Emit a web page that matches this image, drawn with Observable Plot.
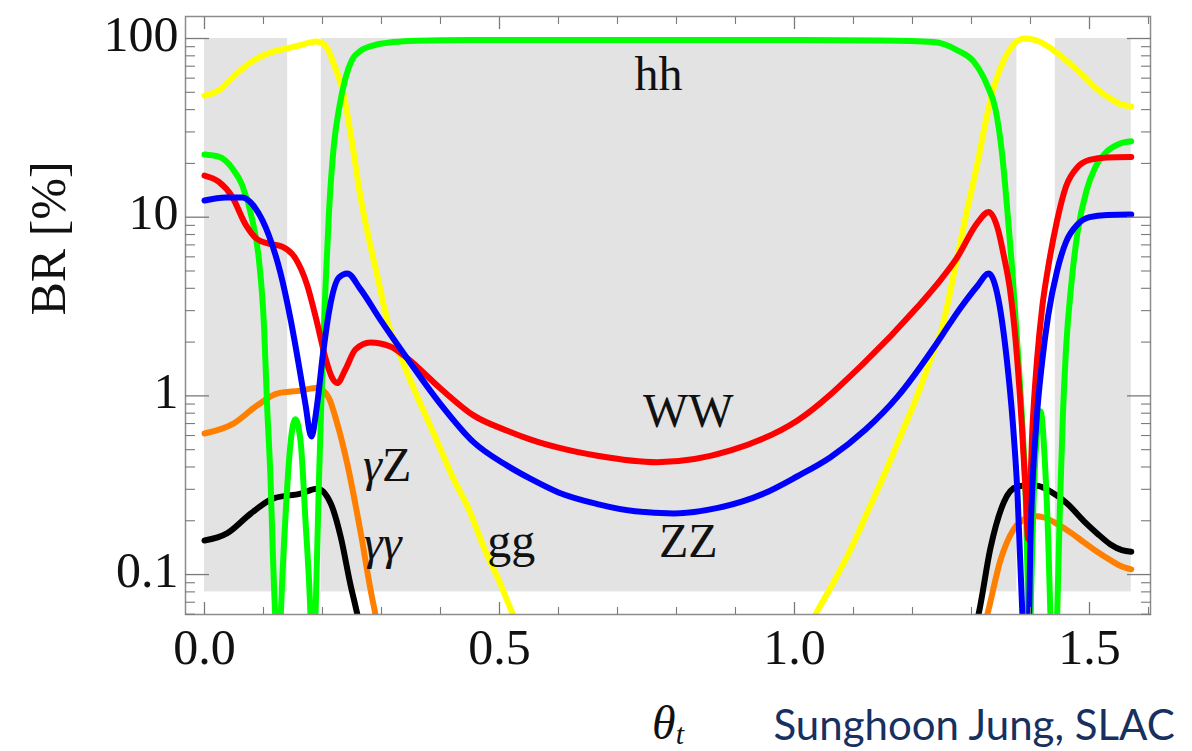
<!DOCTYPE html>
<html><head><meta charset="utf-8">
<script src="https://cdn.jsdelivr.net/npm/d3@7"></script>
<script src="https://cdn.jsdelivr.net/npm/@observablehq/plot@0.6"></script>
<style>
html,body{margin:0;padding:0;background:#fff;overflow:hidden;}
</style></head><body><div id="chart"></div>
<script>
// ---- data: [theta_t, BR in %] ----
const ggBR = [[0,47.9],[0.025,51.5],[0.05,61.7],[0.08,74.1],[0.115,84.1],[0.14,88.1],[0.165,92.3],[0.19,96.2],[0.205,91.2],[0.22,70.8],[0.235,50.1],[0.25,26.3],[0.265,12.6],[0.28,7.24],[0.295,4.37],[0.31,2.63],[0.335,1.58],[0.36,1.0],[0.39,0.60],[0.42,0.355],[0.45,0.224],[0.475,0.138],[0.50,0.091],[0.52,0.063],[0.55,0.04],[0.99,0.025],[1.036,0.060],[1.06,0.083],[1.095,0.138],[1.125,0.229],[1.151,0.355],[1.18,0.60],[1.208,1.0],[1.23,1.58],[1.25,2.4],[1.27,4.8],[1.29,10],[1.31,20],[1.325,35.5],[1.34,56.2],[1.355,75.9],[1.37,91.2],[1.39,100],[1.41,97.7],[1.43,90.2],[1.45,80.4],[1.47,70.8],[1.49,61.7],[1.51,53.1],[1.53,47.3],[1.55,43.2],[1.5708,41.7]];
const hhBR = [[0,22.4],[0.024,21.8],[0.047,18.8],[0.064,15.1],[0.081,9.66],[0.092,5.89],[0.101,2.42],[0.106,0.90],[0.112,0.336],[0.116,0.126],[0.12,0.056],[0.1245,0.02],[0.129,0.056],[0.137,0.204],[0.146,0.55],[0.154,0.74],[0.163,0.55],[0.171,0.204],[0.18,0.056],[0.184,0.02],[0.188,0.056],[0.194,0.336],[0.2,1.48],[0.205,3.98],[0.211,10.7],[0.219,24.7],[0.228,40.5],[0.239,60.1],[0.25,75.9],[0.264,85.1],[0.287,91.6],[0.32,95.5],[0.36,97.3],[0.45,98],[0.6,98.2],[0.8,98.2],[1.0,98],[1.15,97.5],[1.236,95.5],[1.276,85.9],[1.304,74.1],[1.327,54.3],[1.341,39.8],[1.352,22.4],[1.361,10.7],[1.369,5.08],[1.378,1.89],[1.386,0.705],[1.392,0.262],[1.395,0.1],[1.398,0.02],[1.401,0.079],[1.405,0.25],[1.41,0.56],[1.417,0.82],[1.424,0.45],[1.43,0.158],[1.434,0.056],[1.439,0.02],[1.445,0.056],[1.45,0.25],[1.455,0.79],[1.46,1.78],[1.47,4.47],[1.48,8.3],[1.495,14.1],[1.51,19.1],[1.53,23.4],[1.55,25.7],[1.5708,26.6]];
const zzBR = [[0,12.4],[0.036,12.9],[0.064,12.9],[0.0865,11.2],[0.109,7.93],[0.129,4.84],[0.146,2.67],[0.16,1.48],[0.171,0.90],[0.181,0.593],[0.191,0.90],[0.2,1.63],[0.211,2.95],[0.228,4.6],[0.242,4.84],[0.264,3.97],[0.298,2.67],[0.343,1.63],[0.4,0.90],[0.456,0.551],[0.513,0.407],[0.553,0.343],[0.6,0.288],[0.666,0.248],[0.73,0.226],[0.795,0.22],[0.87,0.236],[0.948,0.284],[1.005,0.355],[1.061,0.454],[1.12,0.646],[1.174,0.984],[1.236,1.86],[1.264,2.56],[1.281,3.09],[1.31,4.12],[1.329,4.84],[1.345,3.55],[1.36,1.58],[1.37,0.708],[1.378,0.282],[1.386,0.063],[1.393,0.01],[1.4,0.158],[1.41,0.708],[1.42,1.58],[1.43,2.82],[1.445,5.0],[1.46,7.24],[1.48,9.12],[1.5,10],[1.53,10.3],[1.5708,10.35]];
const wwBR = [[0,17.1],[0.024,15.8],[0.047,13.0],[0.069,9.18],[0.089,7.55],[0.109,7.11],[0.132,6.84],[0.154,5.89],[0.174,4.17],[0.191,2.55],[0.205,1.63],[0.216,1.27],[0.225,1.18],[0.239,1.41],[0.256,1.82],[0.281,1.99],[0.315,1.89],[0.343,1.63],[0.4,1.10],[0.456,0.778],[0.513,0.638],[0.553,0.569],[0.6,0.513],[0.666,0.462],[0.767,0.425],[0.892,0.495],[1.005,0.728],[1.117,1.52],[1.208,3.13],[1.247,4.43],[1.275,5.9],[1.31,9.3],[1.329,10.7],[1.345,8.51],[1.355,6.03],[1.365,3.98],[1.375,2.0],[1.385,0.708],[1.392,0.282],[1.396,0.158],[1.403,0.631],[1.411,1.58],[1.42,3.16],[1.43,5.25],[1.445,9.55],[1.46,14.8],[1.48,19.1],[1.5,20.9],[1.53,21.6],[1.5708,21.7]];
const gzBR = [[0,0.616],[0.049,0.70],[0.089,0.883],[0.123,1.03],[0.163,1.07],[0.191,1.11],[0.21,0.984],[0.225,0.70],[0.242,0.417],[0.264,0.177],[0.286,0.069],[0.30,0.045],[1.30,0.03],[1.327,0.06],[1.349,0.12],[1.372,0.18],[1.39,0.205],[1.406,0.213],[1.425,0.208],[1.445,0.192],[1.47,0.17],[1.49,0.152],[1.513,0.134],[1.536,0.12],[1.555,0.111],[1.5708,0.107]];
const aaBR = [[0,0.155],[0.038,0.17],[0.078,0.219],[0.117,0.267],[0.163,0.284],[0.191,0.302],[0.214,0.25],[0.231,0.162],[0.247,0.089],[0.259,0.06],[0.27,0.04],[1.29,0.035],[1.312,0.06],[1.332,0.14],[1.355,0.255],[1.377,0.31],[1.395,0.315],[1.411,0.314],[1.435,0.29],[1.462,0.25],[1.49,0.2],[1.513,0.17],[1.535,0.148],[1.555,0.137],[1.5708,0.134]];

const seriesNames  = ["gg", "γγ", "γZ", "hh", "WW", "ZZ"];
const seriesColors = ["#ffff00", "#000000", "#ff7f00", "#00ff00", "#ff0000", "#0000ff"];
const seriesData   = [ggBR, aaBR, gzBR, hhBR, wwBR, zzBR];

const shadeBands = [{x1: 0, x2: 0.141}, {x1: 0.198, x2: 1.377}, {x1: 1.442, x2: 1.5708}];
const shadeRange = [0.08, 100];

const curveLabels = [
  {text: "hh", x: 0.7695, y: 51.2},
  {text: "WW", x: 0.82, y: 0.668},
  {text: "ZZ", x: 0.82, y: 0.1252},
  {text: "gg", x: 0.52, y: 0.1252},
  {text: "γZ", x: 0.3096, y: 0.336},
  {text: "γγ", x: 0.302, y: 0.1215}
];

const xMajorTicks = [0, 0.5, 1.0, 1.5];
const xTickLabels = ["0.0", "0.5", "1.0", "1.5"];
const xMinorTicks = [0.1,0.2,0.3,0.4,0.6,0.7,0.8,0.9,1.1,1.2,1.3,1.4,1.6];
const yMajorTicks = [0.1, 1, 10, 100];
const yTickLabels = ["0.1", "1", "10", "100"];
const yMinorTicks = [0.06,0.07,0.08,0.09,0.2,0.3,0.4,0.5,0.6,0.7,0.8,0.9,2,3,4,5,6,7,8,9,20,30,40,50,60,70,80,90];

const xDomain = [-0.0322, 1.6034];
const yDomain = [0.05977, 132.8];

const serif = "'Liberation Serif', 'Times New Roman', serif";
const tickColor = "#7a7a7a";

const lineMarks = seriesData.map((pts, i) =>
  Plot.line(pts, {x: d => d[0], y: d => d[1], stroke: seriesColors[i], strokeWidth: 6, curve: "monotone-x", clip: true})
);

const plot = Plot.plot({
  width: 1192, height: 751,
  marginLeft: 185, marginRight: 42, marginTop: 16, marginBottom: 137,
  x: {domain: xDomain, label: null},
  y: {type: "log", domain: yDomain, label: null},
  style: {background: "#fff"},
  marks: [
    Plot.rect(shadeBands, {x1: "x1", x2: "x2", y1: shadeRange[0], y2: shadeRange[1], fill: "#e3e3e3"}),
    ...lineMarks,
    Plot.text(curveLabels, {x: "x", y: "y", text: "text", fontSize: 48, fontFamily: serif, lineAnchor: "bottom", fill: "#111"}),
    Plot.frame({stroke: "#8c8c8c", strokeWidth: 1.5}),
    // inward ticks on all sides
    Plot.axisX({anchor: "bottom", ticks: xMajorTicks, tickSize: -12, fill: "none", stroke: tickColor, strokeWidth: 1.3, label: null}),
    Plot.axisX({anchor: "bottom", ticks: xMinorTicks, tickSize: -7, fill: "none", stroke: tickColor, strokeWidth: 1.1, label: null}),
    Plot.axisX({anchor: "top", ticks: xMajorTicks, tickSize: -12, fill: "none", stroke: tickColor, strokeWidth: 1.3, label: null}),
    Plot.axisX({anchor: "top", ticks: xMinorTicks, tickSize: -7, fill: "none", stroke: tickColor, strokeWidth: 1.1, label: null}),
    Plot.axisY({anchor: "left", ticks: yMajorTicks, tickSize: -24, fill: "none", stroke: tickColor, strokeWidth: 1.3, label: null}),
    Plot.axisY({anchor: "left", ticks: yMinorTicks, tickSize: -10, fill: "none", stroke: tickColor, strokeWidth: 1.1, label: null}),
    Plot.axisY({anchor: "right", ticks: yMajorTicks, tickSize: -24, fill: "none", stroke: tickColor, strokeWidth: 1.3, label: null}),
    Plot.axisY({anchor: "right", ticks: yMinorTicks, tickSize: -10, fill: "none", stroke: tickColor, strokeWidth: 1.1, label: null}),
    // tick labels
    Plot.axisX({anchor: "bottom", ticks: xMajorTicks, tickSize: 0, tickPadding: 14, tickFormat: d => xTickLabels[xMajorTicks.indexOf(d)], fontSize: 50, fontFamily: serif, fill: "#111", label: null}),
    Plot.axisY({anchor: "left", ticks: yMajorTicks, tickSize: 0, tickPadding: 7, dy: -4, tickFormat: d => yTickLabels[yMajorTicks.indexOf(d)], fontSize: 50, fontFamily: serif, fill: "#111", label: null}),
    // axis titles
    Plot.text(["BR [%]"], {frameAnchor: "left", text: d => d, rotate: -90, dx: -137, fontSize: 50, fontFamily: serif, fill: "#111"}),
    Plot.text(["θt"], {frameAnchor: "bottom", text: d => d, dy: 124, lineAnchor: "bottom", fontSize: 48, fontFamily: serif, fill: "#111"}),
    // credit
    Plot.text(["Sunghoon Jung, SLAC"], {frameAnchor: "bottom-left", text: d => d, dx: 588, dy: 125, lineAnchor: "bottom", textAnchor: "start", fontSize: 42, fontFamily: "Lato, 'Open Sans', sans-serif", fill: "#17305f"})
  ]
});

// rich text: italic Greek letters, subscript t
d3.select(plot).selectAll("text").each(function() {
  const t = this.textContent;
  const sel = d3.select(this);
  if (t === "γZ") {
    sel.text(null);
    sel.append("tspan").attr("font-style", "italic").text("γ");
    sel.append("tspan").text("Z");
  } else if (t === "γγ") {
    sel.text(null);
    sel.append("tspan").attr("font-style", "italic").text("γγ");
  } else if (t === "θt") {
    sel.text(null);
    sel.append("tspan").attr("font-style", "italic").text("θ");
    sel.append("tspan").attr("font-style", "italic").attr("font-size", "62%").attr("dy", "0.18em").text("t");
  }
});

document.getElementById("chart").appendChild(plot);
</script>
</body></html>
